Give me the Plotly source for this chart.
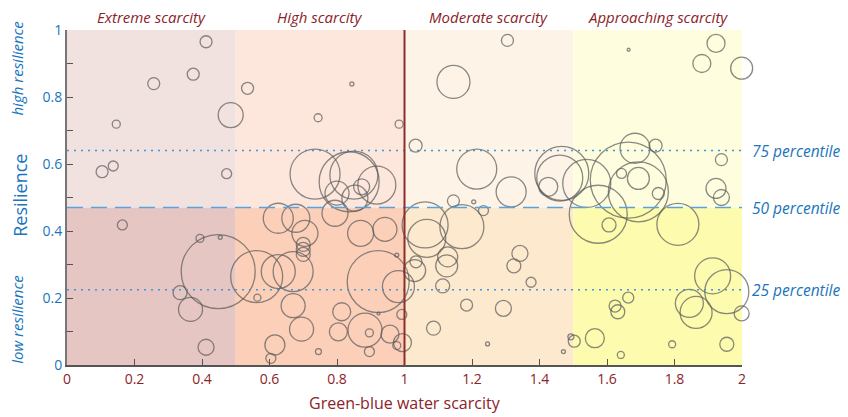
import plotly.graph_objects as go

# ---- data ----
scarcity_categories = ["Extreme scarcity", "High scarcity", "Moderate scarcity", "Approaching scarcity"]
category_bounds = [0.0, 0.5, 1.0, 1.5, 2.0]
percentile_names = ["75 percentile", "50 percentile", "25 percentile"]
percentile_values = [0.64, 0.47, 0.225]

x_ticks = [0, 0.2, 0.4, 0.6, 0.8, 1, 1.2, 1.4, 1.6, 1.8, 2]
x_tick_labels = ["0", "0.2", "0.4", "0.6", "0.8", "1", "1.2", "1.4", "1.6", "1.8", "2"]
y_ticks = [0, 0.1, 0.2, 0.3, 0.4, 0.5, 0.6, 0.7, 0.8, 0.9, 1]
y_tick_labels = ["0", "", "0.2", "", "0.4", "", "0.6", "", "0.8", "", "1"]

# green-blue water scarcity (x), resilience (y), bubble diameter
scarcity = [
    # extreme scarcity
    0.412, 0.374, 0.257, 0.485, 0.146, 0.104, 0.137, 0.473, 0.164, 0.394, 0.454, 0.448, 0.335, 0.366, 0.412,
    # high scarcity
    0.535, 0.744, 0.844, 0.984, 0.735, 0.836, 0.850, 0.918, 0.800, 0.873, 0.853, 0.794,
    0.626, 0.678, 0.705, 0.870, 0.942, 0.700, 0.700, 0.700, 0.562, 0.564, 0.626, 0.670,
    0.670, 0.695, 0.616, 0.604, 0.922, 0.982, 0.992, 0.923, 0.814, 0.804, 0.883, 0.896,
    0.957, 0.994, 0.977, 0.896, 0.745, 0.977,
    # moderate scarcity
    1.033, 1.145, 1.305, 1.214, 1.316, 1.145, 1.205, 1.234, 1.061, 1.170, 1.066, 1.128,
    1.125, 1.034, 1.030, 1.342, 1.324, 1.375, 1.113, 1.184, 1.086, 1.293, 1.246,
    1.466, 1.460, 1.426, 1.471,
    # approaching scarcity
    1.664, 1.923, 1.881, 1.999, 1.683, 1.744, 1.939, 1.540, 1.663, 1.693, 1.693, 1.643,
    1.752, 1.923, 1.939, 1.574, 1.606, 1.810, 1.913, 1.955, 1.844, 1.864, 1.999, 1.663,
    1.624, 1.632, 1.564, 1.503, 1.493, 1.641, 1.793, 1.955,
]
resilience = [
    0.965, 0.868, 0.840, 0.746, 0.719, 0.577, 0.594, 0.571, 0.418, 0.378, 0.381, 0.279, 0.216, 0.166, 0.053,
    0.826, 0.738, 0.839, 0.719, 0.570, 0.547, 0.567, 0.537, 0.513, 0.532, 0.498, 0.453,
    0.438, 0.438, 0.393, 0.393, 0.405, 0.360, 0.345, 0.330, 0.264, 0.201, 0.279, 0.279,
    0.177, 0.107, 0.060, 0.020, 0.249, 0.234, 0.151, 0.154, 0.159, 0.099, 0.104, 0.096,
    0.092, 0.067, 0.058, 0.040, 0.040, 0.328,
    0.655, 0.845, 0.969, 0.585, 0.517, 0.490, 0.487, 0.461, 0.418, 0.413, 0.378, 0.323,
    0.296, 0.308, 0.282, 0.333, 0.296, 0.247, 0.236, 0.179, 0.110, 0.169, 0.063,
    0.572, 0.558, 0.532, 0.040,
    0.941, 0.960, 0.900, 0.886, 0.647, 0.655, 0.613, 0.542, 0.552, 0.517, 0.557, 0.572,
    0.512, 0.527, 0.500, 0.450, 0.418, 0.420, 0.266, 0.219, 0.184, 0.157, 0.154, 0.201,
    0.176, 0.159, 0.080, 0.071, 0.084, 0.030, 0.062, 0.062,
]
bubble_size = [
    12, 12, 12, 25, 8, 12, 10, 10, 10, 8, 4, 74, 14, 24, 16,
    12, 8, 4, 8, 50, 60, 48, 38, 24, 16, 26, 26,
    30, 28, 26, 26, 24, 14, 14, 14, 52, 7, 34, 40,
    24, 24, 20, 10, 62, 32, 10, 3, 18, 18, 34, 8,
    18, 18, 8, 10, 6, 4,
    13, 33, 12, 40, 30, 12, 4, 10, 46, 44, 38, 20,
    22, 12, 22, 16, 14, 10, 14, 12, 14, 16, 4,
    54, 46, 19, 4,
    3, 18, 18, 22, 30, 13, 12, 48, 76, 60, 22, 10,
    12, 20, 16, 58, 14, 42, 36, 44, 28, 32, 15, 11,
    12, 14, 19, 12, 6, 7, 7, 14,
]
x_title = "Green-blue water scarcity"
y_title = "Resilience"

# ---- styling ----
top_colors = ["#F1E1DF", "#FDE7DC", "#FDF4E7", "#FEFEDF"]
bottom_colors = ["#E6C6C3", "#FCCFB9", "#FDE9CD", "#FCFBAE"]
red_text = "#8B2328"
blue_text = "#1A75BC"
font_family = "Open Sans, Noto Sans, sans-serif"

fig = go.Figure()

fig.add_trace(go.Scatter(
    x=scarcity, y=resilience, mode="markers",
    marker=dict(size=bubble_size, sizemode="diameter", color="rgba(0,0,0,0)",
                line=dict(color="#5a5a5a", width=1.3)),
    cliponaxis=False, hoverinfo="x+y", showlegend=False,
))

shapes = []
for i in range(len(scarcity_categories)):
    x0, x1 = category_bounds[i], category_bounds[i + 1]
    shapes.append(dict(type="rect", xref="x", yref="y", x0=x0, x1=x1, y0=percentile_values[1], y1=1,
                       fillcolor=top_colors[i], line_width=0, layer="below"))
    shapes.append(dict(type="rect", xref="x", yref="y", x0=x0, x1=x1, y0=0, y1=percentile_values[1],
                       fillcolor=bottom_colors[i], line_width=0, layer="below"))

# percentile lines
for name, v in zip(percentile_names, percentile_values):
    is_median = name.startswith("50")
    shapes.append(dict(type="line", xref="x", yref="y", x0=0, x1=2, y0=v, y1=v,
                       line=dict(color="#5AA2DE" if is_median else "#3F95D6",
                                 width=1.5,
                                 dash="16px,8px" if is_median else "2px,5px"),
                       layer="above"))
# vertical divider at scarcity = 1
shapes.append(dict(type="line", xref="x", yref="y", x0=1, x1=1, y0=0, y1=1,
                   line=dict(color="#8B2E2E", width=2), layer="above"))

annotations = []
for i, name in enumerate(scarcity_categories):
    annotations.append(dict(x=(category_bounds[i] + category_bounds[i + 1]) / 2, y=1, xref="x", yref="y",
                            yshift=13, text=f"<i>{name}</i>", showarrow=False,
                            font=dict(size=15, color=red_text, family=font_family)))
for name, v in zip(percentile_names, percentile_values):
    annotations.append(dict(x=2, y=v, xref="x", yref="y", xanchor="left", xshift=8,
                            text=f"<i>{name}</i>", showarrow=False,
                            font=dict(size=15.5, color=blue_text, family=font_family)))
annotations.append(dict(x=0, y=0.505, xref="paper", yref="y", xanchor="center", xshift=-47,
                        text=y_title, textangle=-90, showarrow=False,
                        font=dict(size=18, color=blue_text, family=font_family)))
annotations.append(dict(x=0, y=0.885, xref="paper", yref="y", xanchor="center", xshift=-50,
                        text="<i>high resilience</i>", textangle=-90, showarrow=False,
                        font=dict(size=15, color=blue_text, family=font_family)))
annotations.append(dict(x=0, y=0.135, xref="paper", yref="y", xanchor="center", xshift=-50,
                        text="<i>low resilience</i>", textangle=-90, showarrow=False,
                        font=dict(size=15, color=blue_text, family=font_family)))
annotations.append(dict(x=0.5, y=0, xref="paper", yref="paper", xanchor="center", yanchor="middle",
                        yshift=-38, text=x_title, showarrow=False,
                        font=dict(size=16, color=red_text, family=font_family)))

# page body has an 8px default margin, so the figure is sized to fill the rest of the window
fig.update_layout(
    width=840, height=409,
    margin=dict(l=59, r=106, t=22, b=52, autoexpand=False),
    paper_bgcolor="white", plot_bgcolor="white",
    shapes=shapes, annotations=annotations,
    font=dict(family=font_family),
    xaxis=dict(range=[0, 2], tickvals=x_ticks, ticktext=x_tick_labels, showgrid=False, zeroline=False,
               showline=True, linecolor="#555555", linewidth=1.5, ticks="inside", ticklen=6,
               tickcolor="#555555", tickfont=dict(size=14, color=red_text), automargin=False),
    yaxis=dict(range=[0, 1], tickvals=y_ticks, ticktext=y_tick_labels, showgrid=False, zeroline=False,
               showline=True, linecolor="#777777", linewidth=2, ticks="inside", ticklen=6,
               tickcolor="#555555", tickfont=dict(size=14, color=blue_text), automargin=False),
)

fig.write_html("out.html")
